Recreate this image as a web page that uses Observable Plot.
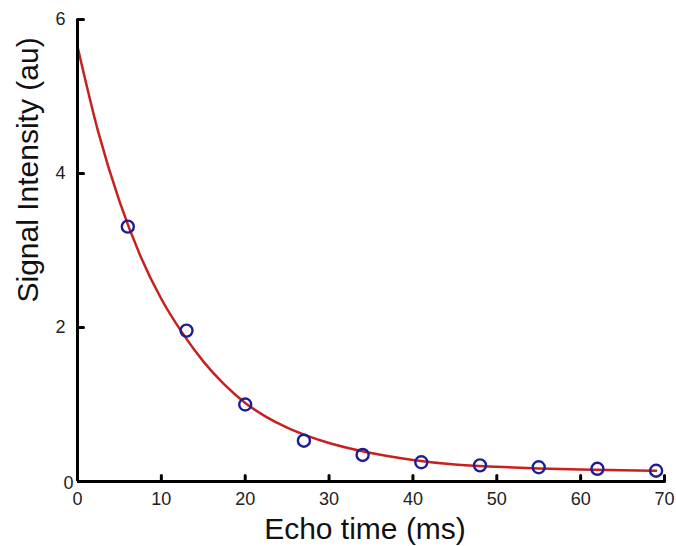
<!DOCTYPE html>
<html>
<head>
<meta charset="utf-8">
<script src="https://cdn.jsdelivr.net/npm/d3@7"></script>
<script src="https://cdn.jsdelivr.net/npm/@observablehq/plot@0.6"></script>
<style>
  html, body { margin: 0; padding: 0; background: #fff; }
  #chart svg { display: block; }
</style>
</head>
<body>
<div id="chart"></div>
<script>
// Measured echo signal (circles)
const echoTimes = [6, 13, 20, 27, 34, 41, 48, 55, 62, 69];
const signal = [3.31, 1.96, 1.00, 0.53, 0.345, 0.25, 0.21, 0.185, 0.165, 0.14];

// Fitted decay curve (red line)
const fitTimes = [0, 2.5, 5, 7.5, 10, 12.5, 15, 17.5, 20, 22.5, 25, 27.5, 30, 35, 40, 45, 50, 55, 60, 65, 69];
const fitSignal = [5.65, 4.53, 3.64, 2.93, 2.37, 1.93, 1.56, 1.26, 1.02, 0.84, 0.70, 0.59, 0.50, 0.37, 0.28, 0.22, 0.19, 0.17, 0.155, 0.145, 0.14];

// Axis ticks and labels
const xTicks = [0, 10, 20, 30, 40, 50, 60, 70];
const yTicks = [0, 2, 4, 6];
const xLabel = "Echo time (ms)";
const yLabel = "Signal Intensity (au)";

const points = echoTimes.map((t, i) => ({t, s: signal[i]}));
const fit = fitTimes.map((t, i) => ({t, s: fitSignal[i]}));

const tickShape = {draw(context, l) { context.moveTo(0, 0); context.lineTo(0, -l); }};
const font = "'Liberation Sans', Arial, sans-serif";
const fmt = d => String(d);

const chart = Plot.plot({
  width: 676,
  height: 546,
  marginLeft: 77,
  marginRight: 12,
  marginTop: 19,
  marginBottom: 65,
  style: {fontFamily: font, background: "#fff"},
  x: {domain: [0, 70]},
  y: {domain: [0, 6]},
  marks: [
    Plot.line(fit, {x: "t", y: "s", stroke: "#c8201e", strokeWidth: 2.5, curve: "monotone-x"}),
    Plot.dot(points, {x: "t", y: "s", r: 6, stroke: "#1d1d98", strokeWidth: 2.4, fill: "none"}),
    Plot.ruleX([0], {stroke: "#000", strokeWidth: 3}),
    Plot.ruleY([0], {stroke: "#000", strokeWidth: 3}),
    Plot.vector(xTicks.filter(v => v > 0), {x: d => d, y: 0, length: 6, rotate: 0, anchor: "start", shape: tickShape, stroke: "#000", strokeWidth: 3}),
    Plot.vector(yTicks.filter(v => v > 0), {x: 0, y: d => d, length: 6, rotate: 90, anchor: "start", shape: tickShape, stroke: "#000", strokeWidth: 3}),
    Plot.axisX(xTicks, {tickSize: 0, tickPadding: 11, fontSize: 18, fill: "#222", label: null, tickFormat: fmt}),
    Plot.axisY(yTicks.filter(v => v > 0), {tickSize: 0, tickPadding: 12, fontSize: 18, fill: "#222", label: null, tickFormat: fmt}),
    Plot.axisY(yTicks.filter(v => v === 0), {tickSize: 0, tickPadding: 4, dy: 2, fontSize: 18, fill: "#222", label: null, tickFormat: fmt}),
    Plot.text([xLabel], {text: d => d, frameAnchor: "bottom", dy: 48, dx: -6, fontSize: 30, fill: "#111", lineAnchor: "middle"}),
    Plot.text([yLabel], {text: d => d, frameAnchor: "left", rotate: -90, dx: -49, dy: 52, fontSize: 30, fill: "#111", lineAnchor: "middle"})
  ]
});
document.getElementById("chart").appendChild(chart);
</script>
</body>
</html>
